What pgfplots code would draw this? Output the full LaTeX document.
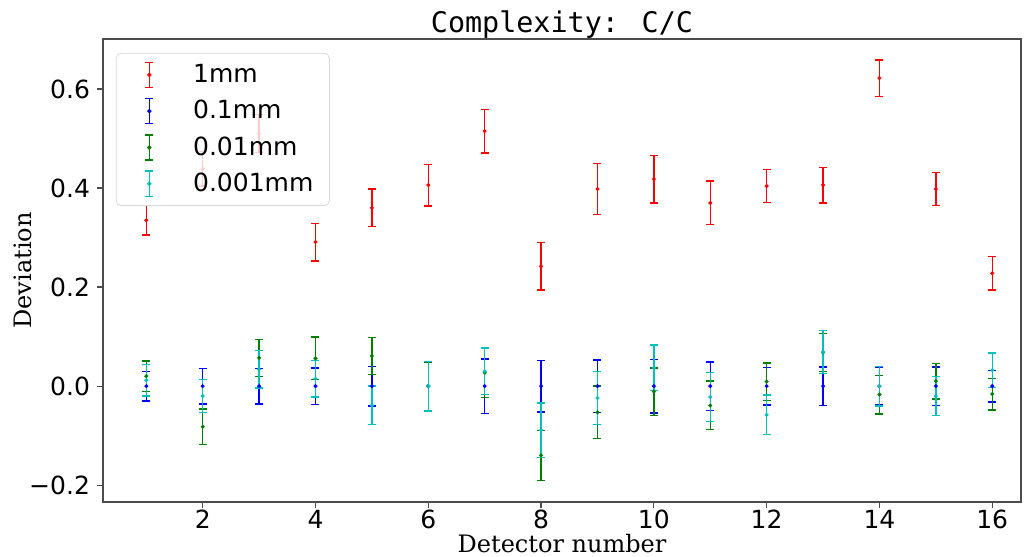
\documentclass[border=0pt]{standalone}
\usepackage{fontspec}
\setmainfont{DejaVu Sans}
\newfontfamily\seriffont{DejaVu Serif}
\newfontfamily\monofont{DejaVu Sans Mono}
\usepackage{pgfplots}
\pgfplotsset{compat=1.18}
\usepackage{pgfplotstable}

\definecolor{mplgreen}{rgb}{0,0.5,0}
\definecolor{mplcyan}{rgb}{0,0.75,0.75}

% detector, mean deviation, error
\pgfplotstableread{
x y e
1 0.335 0.030
2 0.439 0.035
3 0.510 0.038
4 0.291 0.038
5 0.360 0.038
6 0.406 0.042
7 0.515 0.044
8 0.242 0.048
9 0.398 0.051
10 0.418 0.048
11 0.370 0.044
12 0.404 0.033
13 0.406 0.036
14 0.622 0.037
15 0.398 0.033
16 0.228 0.034
}\onemm
\pgfplotstableread{
x y e
1 0 0.030
2 0 0.036
3 0 0.036
4 0 0.037
5 0 0.040
6 0 0.050
7 0 0.055
8 0 0.052
9 0 0.053
10 0 0.054
11 0 0.049
12 0 0.038
13 0 0.039
14 0 0.038
15 0 0.039
16 0 0.032
}\tenthmm
\pgfplotstableread{
x y e
1 0.020 0.031
2 -0.082 0.036
3 0.057 0.037
4 0.056 0.043
5 0.061 0.037
6 0.000 0.049
7 0.027 0.050
8 -0.140 0.050
9 -0.053 0.053
10 -0.011 0.048
11 -0.039 0.049
12 0.009 0.038
13 0.068 0.038
14 -0.017 0.039
15 0.010 0.036
16 -0.016 0.032
}\hundredthmm
\pgfplotstableread{
x y e
1 0.012 0.032
2 -0.020 0.033
3 0.034 0.038
4 0.015 0.037
5 -0.039 0.039
6 0.000 0.050
7 0.030 0.047
8 -0.089 0.055
9 -0.024 0.054
10 0.037 0.046
11 -0.022 0.050
12 -0.058 0.040
13 0.069 0.043
14 0.000 0.040
15 -0.020 0.039
16 0.032 0.035
}\thousandthmm

\begin{document}
\begin{tikzpicture}
\begin{axis}[
    scale only axis,
    width=459pt, height=231.5pt,
    xmin=0.232, xmax=16.51,
    ymin=-0.234, ymax=0.701,
    xtick={2,4,...,16},
    ytick={-0.2,0,0.2,0.4,0.6},
    yticklabels={−0.2,0.0,0.2,0.4,0.6},
    /pgf/number format/assume math mode=true,
    tick align=outside,
    major tick length=3pt,
    tick style={black!70, line width=0.6pt},
    xtick pos=bottom, ytick pos=left,
    axis line style={black!70, line width=0.6pt},
    ticklabel style={font=\fontsize{12.5}{15}\selectfont},
    xticklabel style={inner sep=1pt},
    every axis title shift=0pt,
    title={Complexity: C/C},
    title style={font=\monofont\fontsize{14.2}{17}\selectfont, at={(axis description cs:0.5,1.013)}, anchor=base},
    xlabel={Detector number},
    xlabel style={font=\seriffont\fontsize{12}{14}\selectfont, inner sep=0pt, at={(axis description cs:0.5,-0.108)}, anchor=base},
    ylabel={Deviation},
    ylabel style={font=\seriffont\fontsize{12}{14}\selectfont, inner sep=0pt, at={(axis description cs:-0.078,0.5)}, anchor=base},
    legend style={at={(0.014,0.97)}, anchor=north west, draw=black!15, rounded corners=2.5pt,
        fill=white, fill opacity=0.8, text opacity=1, font=\fontsize{12.5}{15}\selectfont,
        inner xsep=6pt, inner ysep=3.5pt, row sep=3.4pt, cells={anchor=west}},
    legend image code/.code={
        \draw[#1, line width=0.8pt, draw opacity=1] (0.37cm,-0.22cm) -- (0.37cm,0.22cm);
        \draw[#1, line width=0.8pt, draw opacity=1] (0.30cm,0.22cm) -- (0.44cm,0.22cm);
        \draw[#1, line width=0.8pt, draw opacity=1] (0.30cm,-0.22cm) -- (0.44cm,-0.22cm);
        \fill[#1, fill opacity=1] (0.37cm,0) circle (0.9pt);
        \path[draw=none] (0,0) -- (1.07cm,0);
    },
    every axis plot/.append style={only marks, mark=*, mark size=0.8pt,
        error bars/y dir=both, error bars/y explicit,
        error bars/error bar style={line width=0.7pt},
        error bars/error mark options={rotate=90, mark size=2pt, line width=0.7pt}},
]
\addplot[red, error bars/error bar style={red}] table[x=x, y=y, y error=e] {\onemm};
\addplot[blue, error bars/error bar style={blue}] table[x=x, y=y, y error=e] {\tenthmm};
\addplot[mplgreen, error bars/error bar style={mplgreen}] table[x=x, y=y, y error=e] {\hundredthmm};
\addplot[mplcyan, error bars/error bar style={mplcyan}] table[x=x, y=y, y error=e] {\thousandthmm};
\legend{1mm, 0.1mm, 0.01mm, 0.001mm}
\end{axis}
\pgfresetboundingbox
\path (current axis.south west) ++(-51.5pt,-27.5pt) rectangle ++(512pt,278.5pt);
\end{tikzpicture}
\end{document}
